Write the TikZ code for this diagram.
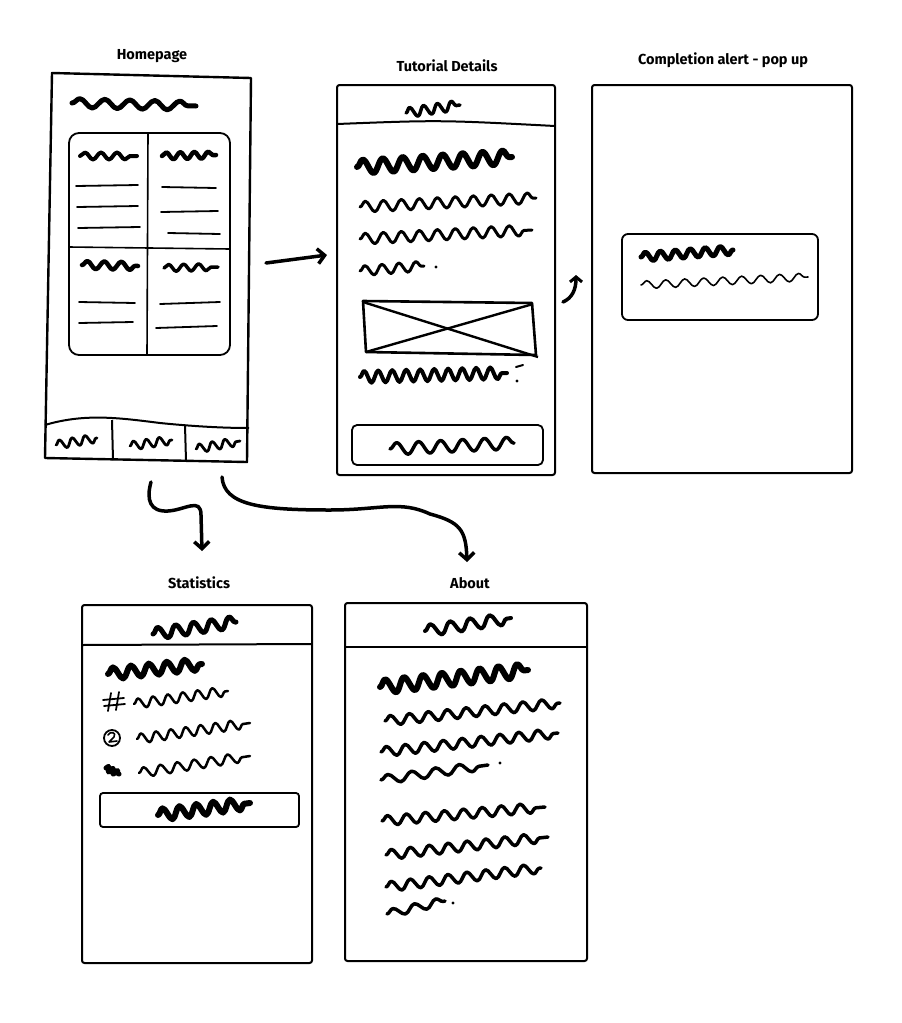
\documentclass[tikz,border=0pt]{standalone}
\usepackage{fontspec}
\newfontfamily\lblfont{Fira Sans}
\usetikzlibrary{decorations.pathmorphing,arrows.meta}
\begin{document}
\begin{tikzpicture}[x=1pt,y=-1pt,
  frame/.style={line width=2pt, line join=round},
  screen/.style={draw, line width=2pt, rounded corners=2.5pt, anchor=north west, inner sep=0pt, outer sep=0pt},
  lbl/.style={font=\lblfont\bfseries\fontsize{14.5}{16}\selectfont, inner sep=0pt},
  sq/.style n args={3}{decorate, decoration={snake, amplitude=#1, segment length=#2}, line width=#3, line cap=round, line join=round},
  rule/.style={line width=1.8pt, line cap=round},
  box/.style={line width=1.8pt, rounded corners=5pt},
  arr/.style={line width=3.5pt, line cap=round, -{Straight Barb[length=7pt,width=15pt,line width=3.5pt]}},
  dotm/.style={fill=black}
]
\useasboundingbox (0,0) rectangle (902,1023);

% ---------- labels ----------
\node[lbl] (lhome) at (152,56) {Homepage};
\node[lbl] (ltut) at (447,66) {Tutorial Details};
\node[lbl] (lcomp) at (723,60) {Completion alert - pop up};
\node[lbl] (lstat) at (199,583) {Statistics};
\node[lbl] (labout) at (470,583) {About};

% ---------- Homepage ----------
\coordinate (hTL) at (52,73);
\coordinate (hTR) at (251,78);
\coordinate (hBR) at (247,462);
\coordinate (hBL) at (45,458);
\draw[frame, line width=2.4pt] (hTL) -- (hTR) -- (hBR) -- (hBL) -- cycle;
\draw[sq={4.5pt}{25pt}{5pt}] (72,103) -- (196,106);
\draw[line width=1.8pt, rounded corners=10pt] (69,133) rectangle (230,355);
\draw[line width=1.6pt] (148,133) -- (147,355);
\draw[line width=1.6pt] (69,247) -- (230,249);
\draw[sq={3.5pt}{16pt}{4pt}] (80,156) -- (137,156);
\draw[sq={3.5pt}{14pt}{4.5pt}] (162,156) -- (216,155);
\draw[sq={4pt}{17pt}{4.5pt}] (82,265) -- (138,266);
\draw[sq={3.5pt}{15pt}{3.5pt}] (164,268) -- (218,267);
\draw[rule] (76,186) -- (138,185);
\draw[rule] (77,207) -- (138,206);
\draw[rule] (78,228) -- (140,227);
\draw[rule] (162,187) -- (216,188);
\draw[rule] (161,212) -- (218,211);
\draw[rule] (168,233) -- (220,234);
\draw[rule] (79,302) -- (135,303);
\draw[rule] (79,323) -- (133,322);
\draw[rule] (160,304) -- (220,302);
\draw[rule] (156,328) -- (217,326);
\draw[frame] (45,425) .. controls (85,413) and (120,418) .. (160,423) .. controls (190,426) and (220,428) .. (249,428);
\draw[frame] (112,420) -- (113,460);
\draw[frame] (185,425) -- (186,461);
\draw[sq={4.5pt}{13pt}{2.8pt}] (56,445) -- (97,438);
\draw[sq={4.5pt}{13pt}{2.8pt}] (130,446) -- (172,440);
\draw[sq={4.5pt}{13pt}{2.8pt}] (196,449) -- (240,441);

% ---------- Tutorial Details ----------
\node[screen, minimum width=218pt, minimum height=390pt] (tut) at (337,85) {};
\draw[frame] (337,124) .. controls (440,120) .. (555,126);
\draw[sq={5pt}{14pt}{3.5pt}] (406,113) -- (460,105);
\draw[sq={7pt}{20pt}{6pt}] (357,167) -- (512,157);
\draw[sq={5.5pt}{18pt}{3pt}] (360,207) -- (536,198);
\draw[sq={5.5pt}{18pt}{3pt}] (360,239) -- (532,230);
\draw[sq={5pt}{17pt}{3pt}] (360,271) -- (424,266);
\fill (436,267) circle (1.6pt);
\draw[line width=2.6pt, line join=round] (363,301) -- (532,303) -- (536,355) -- (366,352) -- cycle;
\draw[line width=2.4pt] (363,302) -- (538,357);
\draw[line width=2.4pt] (366,352) -- (533,304);
\draw[sq={6pt}{14pt}{4pt}] (360,377) -- (507,373);
\draw[line width=2pt, line cap=round] (516,367) -- (523,365);
\fill (517,381) circle (1.7pt);
\draw[box] (352,425) rectangle (543,465);
\draw[sq={6pt}{22pt}{3.5pt}] (390,449) -- (514,443);

% ---------- Completion alert ----------
\node[screen, minimum width=260pt, minimum height=388pt] (comp) at (592,85) {};
\draw[box, rounded corners=6pt] (622,234) rectangle (818,320);
\draw[sq={4.5pt}{15pt}{5pt}] (641,257) -- (733,250);
\draw[sq={4pt}{19pt}{1.6pt}] (641,285) -- (808,277);

% ---------- Statistics ----------
\node[screen, minimum width=230pt, minimum height=358pt] (stat) at (82,605) {};
\draw[frame] (82,645) -- (312,644);
\draw[sq={6pt}{18pt}{5pt}] (153,634) -- (236,622);
\draw[sq={6pt}{18pt}{6pt}] (108,674) -- (202,664);
\draw[line width=1.8pt, line cap=round] (103,700) -- (124,698);
\draw[line width=1.8pt, line cap=round] (104,706) -- (125,704);
\draw[line width=1.8pt, line cap=round] (111,693) -- (108,711);
\draw[line width=1.8pt, line cap=round] (119,692) -- (116,710);
\draw[sq={5pt}{15pt}{2.5pt}] (134,704) -- (228,691);
\draw[line width=1.8pt] (112,738) circle (8pt);
\draw[line width=1.6pt, line cap=round, line join=round] (108,735) .. controls (110,731) and (117,732) .. (114,737) -- (109,742) -- (117,741);
\draw[sq={5pt}{15pt}{2.5pt}] (137,739) -- (250,723);
\draw[sq={2.5pt}{5pt}{5pt}] (106,768) -- (119,774);
\draw[sq={5pt}{17pt}{2.5pt}] (139,773) -- (250,756);
\draw[box, rounded corners=3pt] (100,793) rectangle (299,827);
\draw[sq={6pt}{17pt}{6pt}] (158,815) -- (250,803);

% ---------- About ----------
\node[screen, minimum width=242pt, minimum height=358pt] (about) at (345,603) {};
\draw[frame, line width=2.4pt] (345,647) -- (587,647);
\draw[sq={6pt}{20pt}{4pt}] (425,631) -- (511,618);
\draw[sq={7pt}{19pt}{6pt}] (380,687) -- (528,670);
\draw[sq={5pt}{19pt}{3.5pt}] (385,721) -- (560,703);
\draw[sq={5pt}{19pt}{3.5pt}] (381,752) -- (558,733);
\draw[sq={4.5pt}{24pt}{3.5pt}] (381,780) -- (488,765);
\fill (500,763) circle (1.7pt);
\draw[sq={5pt}{19pt}{3.5pt}] (382,821) -- (545,807);
\draw[sq={5pt}{19pt}{3.5pt}] (386,855) -- (548,837);
\draw[sq={5pt}{19pt}{3.5pt}] (386,887) -- (541,868);
\draw[sq={4pt}{22pt}{3.5pt}] (387,914) -- (445,901);
\fill (453,903) circle (1.7pt);

% ---------- connectors ----------
\coordinate (a1s) at (266,263);
\coordinate (a1e) at (327,255);
\draw[arr] (a1s) -- (a1e);

\coordinate (a2s) at (563,302);
\coordinate (a2e) at (576,275);
\draw[line width=3.5pt, line cap=round, -{Straight Barb[length=5pt,width=12pt,line width=3pt]}] (a2s) .. controls (572,298) and (576,290) .. (a2e);

\coordinate (a3s) at (151,482);
\coordinate (a3e) at (202,551);
\draw[arr] (a3s) .. controls (146,500) and (150,512) .. (168,511) .. controls (185,510) and (201,497) .. (201,515) -- (a3e);

\coordinate (a4s) at (222,477);
\coordinate (a4e) at (467,562);
\draw[arr] (a4s) .. controls (224,505) and (260,510) .. (330,510) .. controls (380,510) and (400,500) .. (430,514) .. controls (460,522) and (466,530) .. (a4e);
\end{tikzpicture}
\end{document}
